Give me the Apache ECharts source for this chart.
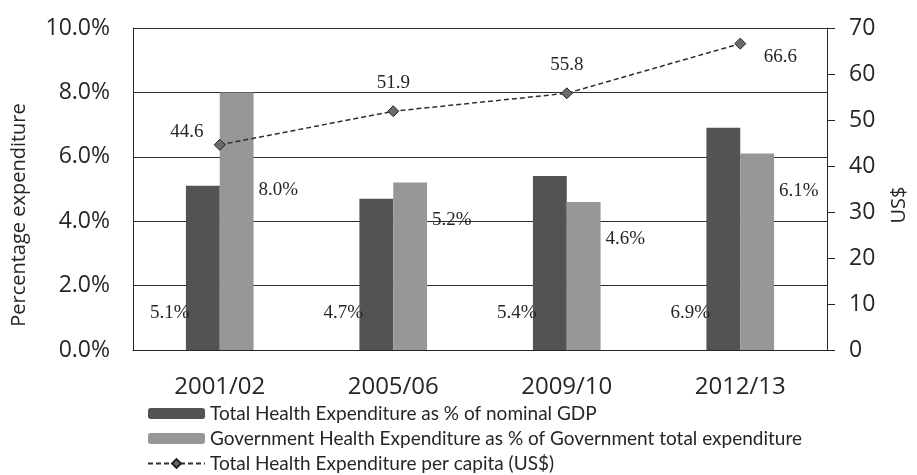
<!DOCTYPE html>
<html>
<head>
<meta charset="utf-8">
<script src="https://cdn.jsdelivr.net/npm/echarts@6/dist/echarts.min.js"></script>
<style>
  html, body { margin: 0; padding: 0; background: #fff; }
  #chart { width: 917px; height: 475px; }
</style>
</head>
<body>
<div id="chart"></div>
<script>
// Health expenditure by fiscal year
const categories = ['2001/02', '2005/06', '2009/10', '2012/13'];
const totalPctGDP = [5.1, 4.7, 5.4, 6.9];
const govPctGovExp = [8.0, 5.2, 4.6, 6.1];
const perCapitaUSD = [44.6, 51.9, 55.8, 66.6];
const leftTicks = [0, 2, 4, 6, 8, 10];
const rightTicks = [0, 10, 20, 30, 40, 50, 60, 70];

const seriesNames = [
  'Total Health Expenditure as % of nominal GDP',
  'Government Health Expenditure as % of Government total expenditure',
  'Total Health Expenditure per capita (US$)'
];

const ink = '#262626';
const serifFont = '"Liberation Serif", "DejaVu Serif", serif';
const sansFont = '"Open Sans", "Noto Sans", sans-serif';
const legendFont = 'Lato, "Open Sans", sans-serif';

const chart = echarts.init(document.getElementById('chart'), null, { renderer: 'canvas' });

const pct = p => p.value.toFixed(1) + '%';

const option = {
  backgroundColor: '#ffffff',
  animation: false,
  grid: { left: 133, right: 86, top: 28, bottom: 125 },
  legend: {
    orient: 'vertical',
    left: 147,
    top: 404,
    padding: 0,
    height: 71,
    itemGap: 6,
    itemWidth: 57,
    itemHeight: 11,
    textStyle: { fontFamily: legendFont, fontSize: 19, color: ink },
    data: seriesNames.map(n => ({ name: n }))
  },
  xAxis: {
    type: 'category',
    data: categories,
    axisLine: { lineStyle: { color: ink, width: 1 } },
    axisTick: { show: false },
    axisLabel: { color: ink, fontFamily: sansFont, fontSize: 24, margin: 25 }
  },
  yAxis: [
    {
      type: 'value',
      min: leftTicks[0],
      max: leftTicks[leftTicks.length - 1],
      interval: 2,
      name: 'Percentage expenditure',
      nameLocation: 'middle',
      nameRotate: 90,
      nameGap: 104,
      nameTextStyle: { color: ink, fontFamily: sansFont, fontSize: 20, padding: [0, 52, 0, 0] },
      axisLine: { show: true, lineStyle: { color: ink, width: 1 } },
      axisTick: { show: false },
      axisLabel: {
        color: ink, fontFamily: sansFont, fontSize: 23, margin: 23,
        formatter: v => v.toFixed(1) + '%'
      },
      splitLine: { lineStyle: { color: '#2e2e2e', width: 1.2 } }
    },
    {
      type: 'value',
      position: 'right',
      min: rightTicks[0],
      max: rightTicks[rightTicks.length - 1],
      interval: 10,
      name: 'US$',
      nameLocation: 'middle',
      nameRotate: 90,
      nameGap: 62,
      nameTextStyle: { color: ink, fontFamily: sansFont, fontSize: 20, padding: [0, 32, 0, 0] },
      axisLine: { show: true, lineStyle: { color: ink, width: 1 } },
      axisTick: { show: true, inside: false, length: 8, lineStyle: { color: ink } },
      axisLabel: { color: ink, fontFamily: sansFont, fontSize: 23, margin: 22 },
      splitLine: { show: false }
    }
  ],
  series: [
    {
      name: seriesNames[0],
      type: 'bar',
      yAxisIndex: 0,
      data: totalPctGDP,
      barGap: '0%',
      barCategoryGap: '61%',
      itemStyle: { color: '#535353' },
      label: {
        show: true,
        position: 'insideBottom',
        offset: [-33, -22],
        color: ink,
        fontFamily: serifFont,
        fontSize: 19,
        formatter: pct
      }
    },
    {
      name: seriesNames[1],
      type: 'bar',
      yAxisIndex: 0,
      // the first label is pushed further down, clear of the line
      data: govPctGovExp.map((v, i) => i === 0
        ? { value: v, label: { position: ['100%', 88] } }
        : v),
      itemStyle: { color: '#979797' },
      label: {
        show: true,
        position: ['100%', 28],
        offset: [5, 0],
        color: ink,
        fontFamily: serifFont,
        fontSize: 19,
        formatter: pct
      }
    },
    {
      name: seriesNames[2],
      type: 'line',
      yAxisIndex: 1,
      data: perCapitaUSD,
      symbol: 'diamond',
      symbolSize: 11,
      itemStyle: { color: '#6a6a6a', borderColor: '#222222', borderWidth: 1 },
      lineStyle: { color: '#2e2e2e', width: 1.5, type: [5, 3] },
      label: {
        show: true,
        position: 'top',
        distance: 13,
        color: ink,
        fontFamily: serifFont,
        fontSize: 19,
        formatter: p => p.value.toFixed(1)
      },
      labelLayout: function (params) {
        // first and last labels sit beside their points
        if (params.dataIndex === 0) return { dx: -33, dy: 16 };
        if (params.dataIndex === perCapitaUSD.length - 1) return { dx: 40, dy: 42 };
        return {};
      }
    }
  ]
};

chart.setOption(option);
</script>
</body>
</html>
